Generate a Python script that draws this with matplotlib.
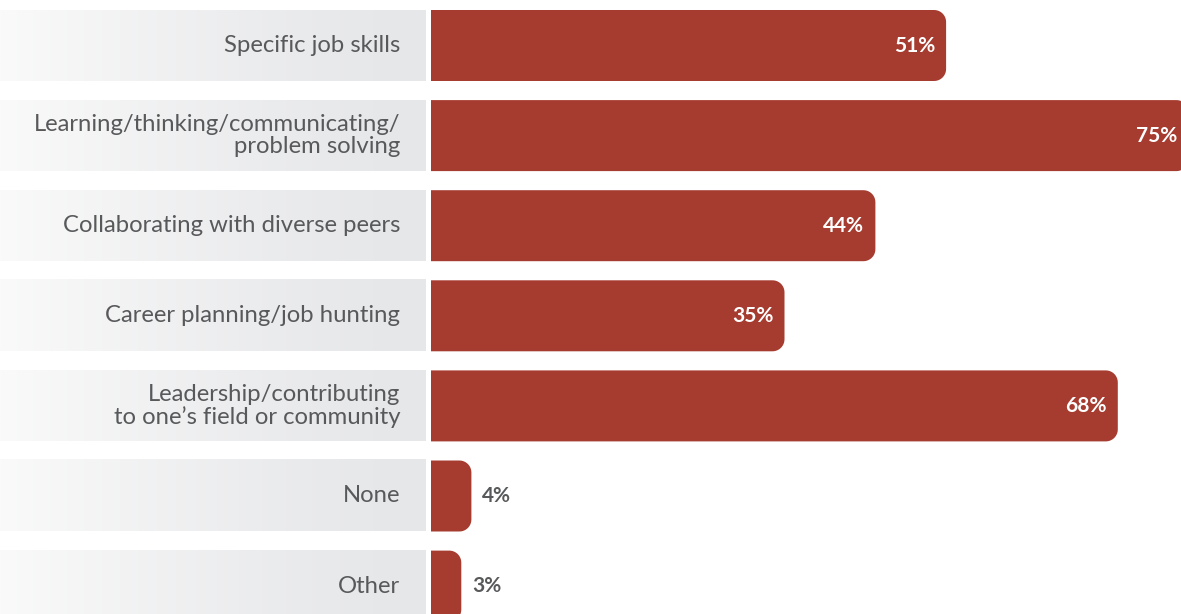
import numpy as np
import matplotlib
matplotlib.use("Agg")
import matplotlib.pyplot as plt
from matplotlib.patches import Polygon

# Survey responses: skills respondents reported developing
categories = [
    "Specific job skills",
    "Learning/thinking/communicating/\nproblem solving",
    "Collaborating with diverse peers",
    "Career planning/job hunting",
    "Leadership/contributing\nto one\u2019s field or community",
    "None",
    "Other",
]
values = [51, 75, 44, 35, 68, 4, 3]
value_labels = ["51%", "75%", "44%", "35%", "68%", "4%", "3%"]

BAR_COLOR = "#A63C30"
TEXT_GRAY = "#58595B"
FONT = ["Lato", "DejaVu Sans"]

W, H = 1181, 614
fig = plt.figure(figsize=(W / 100, H / 100), dpi=100)
fig.patch.set_facecolor("white")

# Geometry in pixels
bar_x0 = 431
panel_x1 = 426
px_per_pct = 10.1
row_pitch = 90.1
row_h = 71.0
first_center = 45.5

y_top = -first_center / row_pitch
y_bot = (H - first_center) / row_pitch
bar_h = row_h / row_pitch

# Left panel: gradient label backgrounds
ax_l = fig.add_axes([0, 0, panel_x1 / W, 1])
ax_l.set_xlim(0, 1)
ax_l.set_ylim(y_bot, y_top)
ax_l.axis("off")

t = np.linspace(0, 1, 256)
c_end = np.array([0xE6, 0xE7, 0xE9]) / 255.0
c_start = np.array([0xFA, 0xFA, 0xFA]) / 255.0
w = (1 - t) ** 1.4
grad = (c_end[None, :] + (c_start - c_end)[None, :] * w[:, None])[None, :, :]

for i, lab in enumerate(categories):
    ax_l.imshow(grad, extent=(0, 1, i + bar_h / 2, i - bar_h / 2),
                aspect="auto", interpolation="bilinear", zorder=1)
    ax_l.text(400 / panel_x1, i, lab, ha="right", va="center",
              fontsize=17.2, color=TEXT_GRAY, family=FONT,
              linespacing=1.1, zorder=3)
ax_l.set_xlim(0, 1)
ax_l.set_ylim(y_bot, y_top)

# Right panel: bars with rounded right ends
ax = fig.add_axes([bar_x0 / W, 0, 1 - bar_x0 / W, 1])
xmax = (W - bar_x0) / px_per_pct
ax.set_xlim(0, xmax)
ax.set_ylim(y_bot, y_top)
ax.axis("off")

r_px = 12.0
rx = r_px / px_per_pct
ry = r_px / row_pitch


def bar_path(v, yc):
    top = yc - bar_h / 2
    bot = yc + bar_h / 2
    rxx = min(rx, v / 2)
    pts = [(0, top), (v - rxx, top)]
    ang = np.linspace(-np.pi / 2, 0, 12)
    cx, cy = v - rxx, top + ry
    pts += [(cx + rxx * np.cos(a), cy + ry * np.sin(a)) for a in ang]
    ang = np.linspace(0, np.pi / 2, 12)
    cx, cy = v - rxx, bot - ry
    pts += [(cx + rxx * np.cos(a), cy + ry * np.sin(a)) for a in ang]
    pts += [(0, bot)]
    return pts


for i, (v, lab) in enumerate(zip(values, value_labels)):
    ax.add_patch(Polygon(bar_path(v, i), closed=True, facecolor=BAR_COLOR,
                         edgecolor="none", zorder=2))
    if v >= 10:
        ax.text(v - 11 / px_per_pct, i, lab, ha="right", va="center",
                fontsize=15, fontweight="bold", color="white", family=FONT,
                zorder=3, clip_on=False)
    else:
        ax.text(v + 11 / px_per_pct, i, lab, ha="left", va="center",
                fontsize=15, fontweight="bold", color=TEXT_GRAY, family=FONT,
                zorder=3)

fig.savefig("out.png", dpi=100, facecolor="white")
